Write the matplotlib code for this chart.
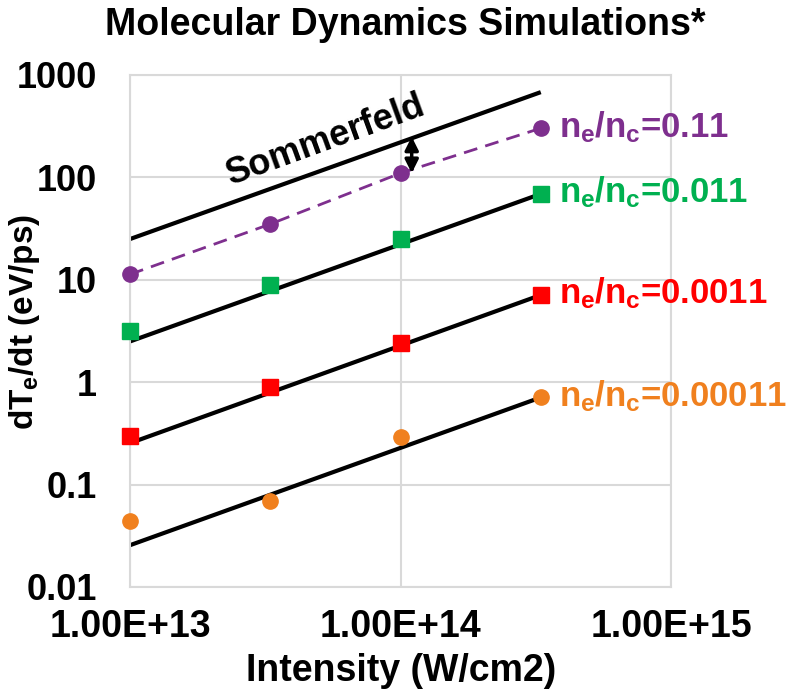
import matplotlib
matplotlib.use("Agg")
import matplotlib.pyplot as plt

# data
intensity = [1e13, 3.3e13, 1e14, 3.3e14]
purple_vals = [11.3, 35, 110, 302]
green_vals = [3.15, 8.9, 25, 69]
red_vals = [0.30, 0.89, 2.4, 7.1]
orange_vals = [0.044, 0.069, 0.29, 0.71]

# straight black fit lines (end points)
fit_x = [1e13, 3.3e14]
sommerfeld = [25, 680]
fit_green = [2.5, 69]
fit_red = [0.254, 7.1]
fit_orange = [0.0256, 0.71]

ratios = ["0.11", "0.011", "0.0011", "0.00011"]

plt.rcParams['font.family'] = ['Liberation Sans', 'DejaVu Sans']
plt.rcParams['font.weight'] = 'bold'
plt.rcParams['mathtext.fontset'] = 'custom'
plt.rcParams['mathtext.rm'] = 'Liberation Sans:bold'
plt.rcParams['mathtext.it'] = 'Liberation Sans:bold'
plt.rcParams['mathtext.bf'] = 'Liberation Sans:bold'

PURPLE = '#7E2F8E'
GREEN = '#00B050'
RED = '#FF0000'
ORANGE = '#F0801E'
GRID = '#D9D9D9'

fig = plt.figure(figsize=(7.97, 6.97), dpi=100)
ax = fig.add_axes([130 / 797, 1 - 587 / 697, 541 / 797, 512 / 697])
ax.set_xscale('log')
ax.set_yscale('log')
ax.set_xlim(1e13, 1e15)
ax.set_ylim(0.01, 1000)

ax.grid(True, which='major', color=GRID, linewidth=1.5)
ax.set_axisbelow(True)
for s in ax.spines.values():
    s.set_color(GRID)
    s.set_linewidth(1.5)
ax.tick_params(which='both', length=0)
ax.minorticks_off()

ax.set_xticks([1e13, 1e14, 1e15])
ax.set_xticklabels(["1.00E+13", "1.00E+14", "1.00E+15"], fontsize=27, fontweight='bold')
ax.set_yticks([0.01, 0.1, 1, 10, 100, 1000])
ax.set_yticklabels(["0.01", "0.1", "1", "10", "100", "1000"], fontsize=26, fontweight='bold')
ax.tick_params(axis='x', pad=16)
ax.tick_params(axis='y', pad=24)

# fit lines
for yv in [sommerfeld, fit_green, fit_red, fit_orange]:
    ax.plot(fit_x, yv, color='black', linewidth=3, solid_capstyle='butt', zorder=2)

ax.plot(intensity, purple_vals, color=PURPLE, linestyle=(0, (5, 3)), linewidth=2,
        marker='o', markersize=11, zorder=3, clip_on=False)
ax.plot(intensity, green_vals, linestyle='none', marker='s', color=GREEN, markersize=11,
        zorder=3, clip_on=False)
ax.plot(intensity, red_vals, linestyle='none', marker='s', color=RED, markersize=11,
        zorder=3, clip_on=False)
ax.plot(intensity, orange_vals, linestyle='none', marker='o', color=ORANGE, markersize=11,
        zorder=3, clip_on=False)

# labels at the last point of each series
for vals, col, r in zip([purple_vals, green_vals, red_vals, orange_vals],
                        [PURPLE, GREEN, RED, ORANGE], ratios):
    ax.annotate(r'$n_e/n_c$=' + r, xy=(intensity[-1], vals[-1]), xytext=(13, 1),
                textcoords='offset points', ha='left', va='center', color=col,
                fontsize=25, fontweight='bold', annotation_clip=False)

ax.text(5.3e13, 230, "Sommerfeld", rotation=20, fontsize=26, fontweight='bold',
        ha='center', va='center', rotation_mode='anchor')

# double arrow between Sommerfeld and purple series
ax.annotate('', xy=(1.1e14, 110), xytext=(1.1e14, 250),
            arrowprops=dict(arrowstyle='<|-|>', color='black', lw=2.5,
                            mutation_scale=20, shrinkA=0, shrinkB=0))

fig.text(405 / 797, 1 - 25 / 697, "Molecular Dynamics Simulations*", fontsize=27,
         fontweight='bold', ha='center', va='center')
fig.text(401 / 797, 1 - 671 / 697, "Intensity (W/cm2)", fontsize=27,
         fontweight='bold', ha='center', va='center')
fig.text(25 / 797, 1 - 322 / 697, r"d$T_e$/dt (eV/ps)", fontsize=24,
         fontweight='bold', ha='center', va='center', rotation=90)

fig.savefig("out.png", dpi=100)
